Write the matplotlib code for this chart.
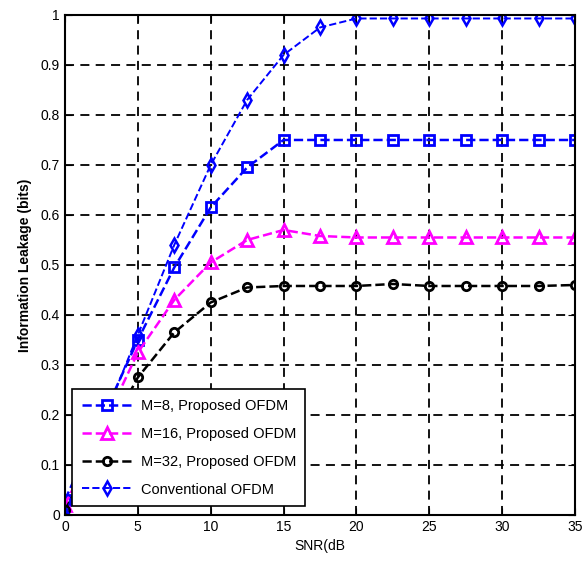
import matplotlib
matplotlib.use("Agg")
import matplotlib.pyplot as plt

plt.rcParams['font.family'] = ['Liberation Sans', 'DejaVu Sans']

snr = [0, 2.5, 5, 7.5, 10, 12.5, 15, 17.5, 20, 22.5, 25, 27.5, 30, 32.5, 35]
m8 = [0.03, 0.19, 0.35, 0.495, 0.615, 0.695, 0.75, 0.75, 0.75, 0.75, 0.75, 0.75, 0.75, 0.75, 0.75]
m16 = [0.02, 0.17, 0.325, 0.43, 0.505, 0.55, 0.57, 0.558, 0.555, 0.555, 0.555, 0.555, 0.555, 0.555, 0.555]
m32 = [0.01, 0.14, 0.275, 0.365, 0.425, 0.455, 0.458, 0.458, 0.458, 0.462, 0.458, 0.458, 0.458, 0.458, 0.46]
conv = [0.0, 0.18, 0.36, 0.54, 0.70, 0.83, 0.92, 0.975, 0.993, 0.993, 0.993, 0.993, 0.993, 0.993, 0.993]

labels = ['M=8, Proposed OFDM', 'M=16, Proposed OFDM', 'M=32, Proposed OFDM', 'Conventional OFDM']
xticks = [0, 5, 10, 15, 20, 25, 30, 35]
yticks = [0, 0.1, 0.2, 0.3, 0.4, 0.5, 0.6, 0.7, 0.8, 0.9, 1]

fig = plt.figure(figsize=(5.85, 5.65), dpi=100)
ax = fig.add_axes([0.111, 0.0885, 0.872, 0.885])

ax.plot(snr, m8, '--', color='#0000ff', lw=1.8, marker='s', ms=7.5, mfc='none', mew=2, label=labels[0])
ax.plot(snr, m16, '--', color='#ff00ff', lw=1.8, marker='^', ms=8, mfc='none', mew=2, label=labels[1])
ax.plot(snr, m32, '--', color='black', lw=1.8, marker='o', ms=6, mfc='none', mew=2, label=labels[2])
ax.plot(snr, conv, '--', color='#0000ff', lw=1.4, marker='d', ms=7, mfc='none', mew=1.8, label=labels[3])

ax.set_xlim(0, 35)
ax.set_ylim(0, 1)
ax.set_xticks(xticks)
ax.set_yticks(yticks)
ax.set_yticklabels(['0', '0.1', '0.2', '0.3', '0.4', '0.5', '0.6', '0.7', '0.8', '0.9', '1'])
ax.tick_params(labelsize=10, direction='in', length=5, top=True, right=True)
ax.grid(True, color='black', linestyle=(0, (5, 3.5)), lw=1.3)
for s in ax.spines.values():
    s.set_linewidth(1.5)

ax.set_xlabel('SNR(dB', fontsize=10, labelpad=4)
ax.set_ylabel('Information Leakage (bits)', fontsize=10, fontweight='bold', labelpad=6)

leg = ax.legend(loc='lower left', bbox_to_anchor=(0.014, 0.018), fontsize=10.5, fancybox=False,
                edgecolor='black', framealpha=1, handlelength=3.5, borderpad=0.65,
                labelspacing=0.95, handletextpad=0.55, borderaxespad=0)
leg.get_frame().set_linewidth(1.2)

fig.savefig('out.png', dpi=100)
